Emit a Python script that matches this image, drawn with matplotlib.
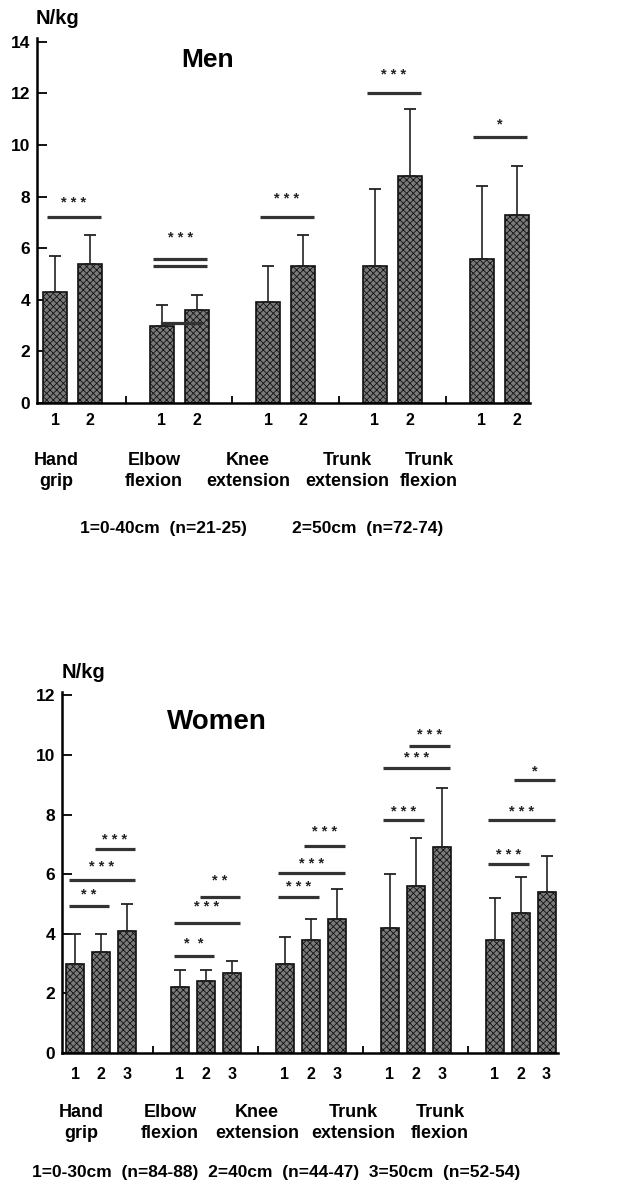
import matplotlib
matplotlib.use("Agg")
import matplotlib.pyplot as plt
import numpy as np

plt.rcParams["font.family"] = ["Liberation Sans", "DejaVu Sans"]
plt.rcParams["font.weight"] = "bold"
plt.rcParams["hatch.linewidth"] = 0.6

# ---- data ----
groups = ["Hand\ngrip", "Elbow\nflexion", "Knee\nextension", "Trunk\nextension", "Trunk\nflexion"]

men_mean = [[4.3, 5.4], [3.0, 3.6], [3.9, 5.3], [5.3, 8.8], [5.6, 7.3]]
men_sd = [[1.4, 1.1], [0.8, 0.6], [1.4, 1.2], [3.0, 2.6], [2.8, 1.9]]
men_levels = ["1", "2"]
# (group, bar i, bar j, line level, stars, stars level)
men_sig = [(0, 0, 1, 7.2, "* * *", 7.75),
           (1, 0, 1, 5.6, "* * *", 6.4),
           (1, 0, 1, 5.3, "", None),
           (2, 0, 1, 7.2, "* * *", 7.9),
           (3, 0, 1, 12.0, "* * *", 12.7),
           (4, 0, 1, 10.3, "*", 10.8)]

women_mean = [[3.0, 3.4, 4.1], [2.2, 2.4, 2.7], [3.0, 3.8, 4.5], [4.2, 5.6, 6.9], [3.8, 4.7, 5.4]]
women_sd = [[1.0, 0.6, 0.9], [0.6, 0.4, 0.4], [0.9, 0.7, 1.0], [1.8, 1.6, 2.0], [1.4, 1.2, 1.2]]
women_levels = ["1", "2", "3"]
women_sig = [(0, 0, 1, 4.93, "* *", 5.3), (0, 0, 2, 5.8, "* * *", 6.24), (0, 1, 2, 6.85, "* * *", 7.15),
             (1, 0, 1, 3.25, "*  *", 3.65), (1, 0, 2, 4.36, "* * *", 4.9), (1, 1, 2, 5.23, "* *", 5.77),
             (2, 0, 1, 5.23, "* * *", 5.57), (2, 0, 2, 6.04, "* * *", 6.34), (2, 1, 2, 6.95, "* * *", 7.4),
             (3, 0, 1, 7.82, "* * *", 8.1), (3, 0, 2, 9.56, "* * *", 9.9), (3, 1, 2, 10.3, "* * *", 10.67),
             (4, 0, 1, 6.34, "* * *", 6.64), (4, 0, 2, 7.82, "* * *", 8.1), (4, 1, 2, 9.16, "*", 9.46)]

men_legend = ["1=0-40cm  (n=21-25)", "2=50cm  (n=72-74)"]
women_legend = "1=0-30cm  (n=84-88)  2=40cm  (n=44-47)  3=50cm  (n=52-54)"

W, H = 618, 1186
fig = plt.figure(figsize=(W / 100, H / 100), dpi=100)


def fx(px):
    return px / W


def fy(py):
    return 1 - py / H


def panel(rect, xlim, ylim, yticks, means, sds, offs, width, levels, sig):
    ax = fig.add_axes(rect)
    xs_all, lab_all = [], []
    for g, (m, s) in enumerate(zip(means, sds)):
        xs = [g + o for o in offs]
        ax.bar(xs, m, width=width, color="#7a7a7a", edgecolor="#111111",
               hatch="xxxxx", linewidth=1.2, zorder=2)
        ax.errorbar(xs, m, yerr=[np.zeros(len(s)), s], fmt="none", ecolor="#222222",
                    elinewidth=1.2, capsize=4, capthick=1.3, zorder=3)
        xs_all += xs
        lab_all += levels
    for g, i, j, y, txt, ty in sig:
        x0 = g + offs[i] - 0.35 * width
        x1 = g + offs[j] + 0.45 * width
        ax.plot([x0, x1], [y, y], color="#333333", lw=2.3, solid_capstyle="butt", zorder=4)
        if txt:
            ax.text((x0 + x1) / 2, ty, txt, ha="center", va="center", fontsize=10.5,
                    fontweight="bold", color="#222222")
    ax.set_xlim(*xlim)
    ax.set_ylim(*ylim)
    ax.set_yticks(yticks)
    ax.tick_params(axis="y", direction="in", length=7, width=1.3, labelsize=12.5, pad=5)
    ax.set_xticks(xs_all)
    ax.set_xticklabels(lab_all)
    ax.tick_params(axis="x", length=0, labelsize=11.5, pad=7)
    ax.set_xticks(np.arange(len(means) - 1) + 0.5, minor=True)
    ax.tick_params(axis="x", which="minor", direction="in", length=5, width=1.3)
    for sp in ("top", "right"):
        ax.spines[sp].set_visible(False)
    ax.spines["left"].set_linewidth(1.8)
    ax.spines["bottom"].set_linewidth(1.8)
    for lab in ax.get_xticklabels() + ax.get_yticklabels():
        lab.set_fontweight("bold")
    return ax


# ---- Men ----
ax1 = panel([fx(37), fy(403), fx(493), 365 / H], (-0.333, 4.29), (0, 14.15),
            np.arange(0, 15, 2), men_mean, men_sd, [-0.164, 0.164], 0.225, men_levels, men_sig)
# joining stroke between the two elbow bars
ax1.plot([1 - 0.164, 1 + 0.2], [3.1, 3.1], color="#333333", lw=2.3, zorder=4)
fig.text(fx(36), fy(18), "N/kg", ha="left", va="center", fontsize=14.5, fontweight="bold")
fig.text(fx(208), fy(60), "Men", ha="center", va="center", fontsize=19, fontweight="bold")
for x, name in zip([56, 154, 248, 347, 429], groups):
    fig.text(fx(x), fy(471), name, ha="center", va="center", fontsize=13,
             fontweight="bold", linespacing=1.35)
fig.text(fx(80), fy(528), men_legend[0], ha="left", va="center", fontsize=12.5, fontweight="bold")
fig.text(fx(292), fy(528), men_legend[1], ha="left", va="center", fontsize=12.5, fontweight="bold")

# ---- Women ----
ax2 = panel([fx(62), fy(1053), fx(496), 360.6 / H], (-0.372, 4.357), (0, 12.1),
            np.arange(0, 13, 2), women_mean, women_sd, [-0.248, 0.0, 0.248], 0.172,
            women_levels, women_sig)
ax2.tick_params(axis="x", pad=10)
fig.text(fx(62), fy(672), "N/kg", ha="left", va="center", fontsize=14.5, fontweight="bold")
fig.text(fx(217), fy(722), "Women", ha="center", va="center", fontsize=20, fontweight="bold")
for x, name in zip([81, 170, 257, 353, 440], groups):
    fig.text(fx(x), fy(1123), name, ha="center", va="center", fontsize=13,
             fontweight="bold", linespacing=1.35)
fig.text(fx(276), fy(1173), women_legend, ha="center", va="center", fontsize=12.5, fontweight="bold")

fig.savefig("out.png", dpi=100)
